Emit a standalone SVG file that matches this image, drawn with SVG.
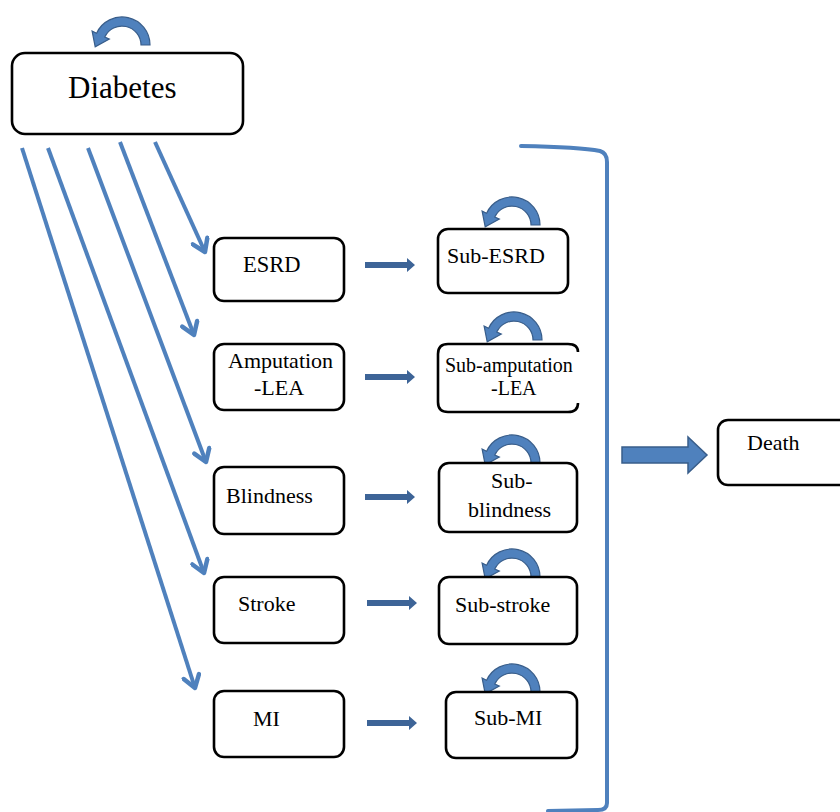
<svg xmlns="http://www.w3.org/2000/svg" xmlns:xlink="http://www.w3.org/1999/xlink" width="840" height="812" viewBox="0 0 840 812">
<style>
.box{fill:#fff;stroke:#000;stroke-width:2.6}
.link{stroke:#4f81bd;stroke-width:4;fill:none;marker-end:url(#chev)}
.loop{fill:#4f81bd;stroke:#385d8a;stroke-width:1.2}
.small{fill:#3d6497}
.bracket{fill:none;stroke:#4f81bd;stroke-width:4;stroke-linecap:round}
</style>
<defs>
<marker id="chev" viewBox="-16 -10 20 20" markerWidth="20" markerHeight="20" refX="0" refY="0" orient="auto" markerUnits="userSpaceOnUse">
<path d="M -12 -8 L 0 0 L -12 8" fill="none" stroke="#4f81bd" stroke-width="4.5" stroke-linecap="round" stroke-linejoin="round"/>
</marker>
<path id="selfloop" d="M 28 0 A 28 28 0 0 0 -25.4 -11.8 L -29.9 -13.9 L -26.8 1.9 L -12.7 -5.9 L -17.2 -8.0 A 19 19 0 0 1 19 0 Z"/>
<path id="smallarrow" d="M 0 -3 L 42 -3 L 42 -7 L 50 0 L 42 7 L 42 3 L 0 3 Z"/>
</defs>

<g id="connectors">
<line class="link" x1="155" y1="142" x2="205" y2="252"/>
<line class="link" x1="120" y1="142" x2="194" y2="335"/>
<line class="link" x1="88" y1="148" x2="206" y2="462"/>
<line class="link" x1="48" y1="148" x2="204" y2="573"/>
<line class="link" x1="22" y1="148" x2="195" y2="688"/>
<use href="#smallarrow" class="small" transform="translate(365,265)"/>
<use href="#smallarrow" class="small" transform="translate(365,377)"/>
<use href="#smallarrow" class="small" transform="translate(365,497)"/>
<use href="#smallarrow" class="small" transform="translate(367,603)"/>
<use href="#smallarrow" class="small" transform="translate(367,723)"/>
<use href="#selfloop" class="loop" transform="translate(122,45)"/>
<use href="#selfloop" class="loop" transform="translate(512,225)"/>
<use href="#selfloop" class="loop" transform="translate(514,340)"/>
<use href="#selfloop" class="loop" transform="translate(512,463)"/>
<use href="#selfloop" class="loop" transform="translate(512,577)"/>
<use href="#selfloop" class="loop" transform="translate(512,692)"/>
<path class="bracket" d="M 521 146 Q 580 147 600 151 Q 607 153 607 162 L 607 803 Q 607 810 598 810 L 548 811"/>
<polygon points="622,447 688,447 688,437 707,455 688,473 688,463 622,463" fill="#4f81bd" stroke="#385d8a" stroke-width="1.5"/>
</g>

<g font-family="'Liberation Serif', 'DejaVu Serif', serif" fill="#000">
<g id="diabetes">
<rect class="box" x="12" y="53" width="231" height="81" rx="13" stroke-width="3"/>
<text x="68" y="98" font-size="31">Diabetes</text>
</g>

<g id="esrd">
<rect class="box" x="214" y="238" width="130" height="63" rx="10"/>
<text x="243" y="272" font-size="22.5">ESRD</text>
</g>
<g id="amputation">
<rect class="box" x="214" y="344" width="130" height="66" rx="10"/>
<text x="228" y="368" font-size="22">Amputation</text>
<text x="254" y="395" font-size="22">-LEA</text>
</g>
<g id="blindness">
<rect class="box" x="214" y="467" width="130" height="67" rx="10"/>
<text x="226" y="503" font-size="22">Blindness</text>
</g>
<g id="stroke">
<rect class="box" x="214" y="577" width="130" height="66" rx="10"/>
<text x="238" y="611" font-size="22">Stroke</text>
</g>
<g id="mi">
<rect class="box" x="214" y="691" width="130" height="66" rx="10"/>
<text x="253" y="726" font-size="22">MI</text>
</g>

<g id="sub-esrd">
<rect class="box" x="438" y="229" width="130" height="64" rx="10"/>
<text x="447" y="263" font-size="22">Sub-ESRD</text>
</g>
<g id="sub-amputation">
<path class="box" d="M 578 352 Q 578 344 568 344 L 448 344 Q 438 344 438 354 L 438 402 Q 438 412 448 412 L 568 412 Q 578 412 578 403"/>
<text x="445" y="372" font-size="20">Sub-amputation</text>
<text x="491" y="395" font-size="20">-LEA</text>
</g>
<g id="sub-blindness">
<rect class="box" x="439" y="463" width="138" height="69" rx="10"/>
<text x="491" y="488" font-size="22">Sub-</text>
<text x="468" y="517" font-size="22">blindness</text>
</g>
<g id="sub-stroke">
<rect class="box" x="439" y="577" width="138" height="67" rx="10"/>
<text x="455" y="612" font-size="22">Sub-stroke</text>
</g>
<g id="sub-mi">
<rect class="box" x="446" y="692" width="131" height="66" rx="10"/>
<text x="474" y="725" font-size="22">Sub-MI</text>
</g>

<g id="death">
<rect class="box" x="718" y="420" width="134" height="65" rx="10"/>
<text x="747" y="450" font-size="22">Death</text>
</g>
</g>
</svg>
